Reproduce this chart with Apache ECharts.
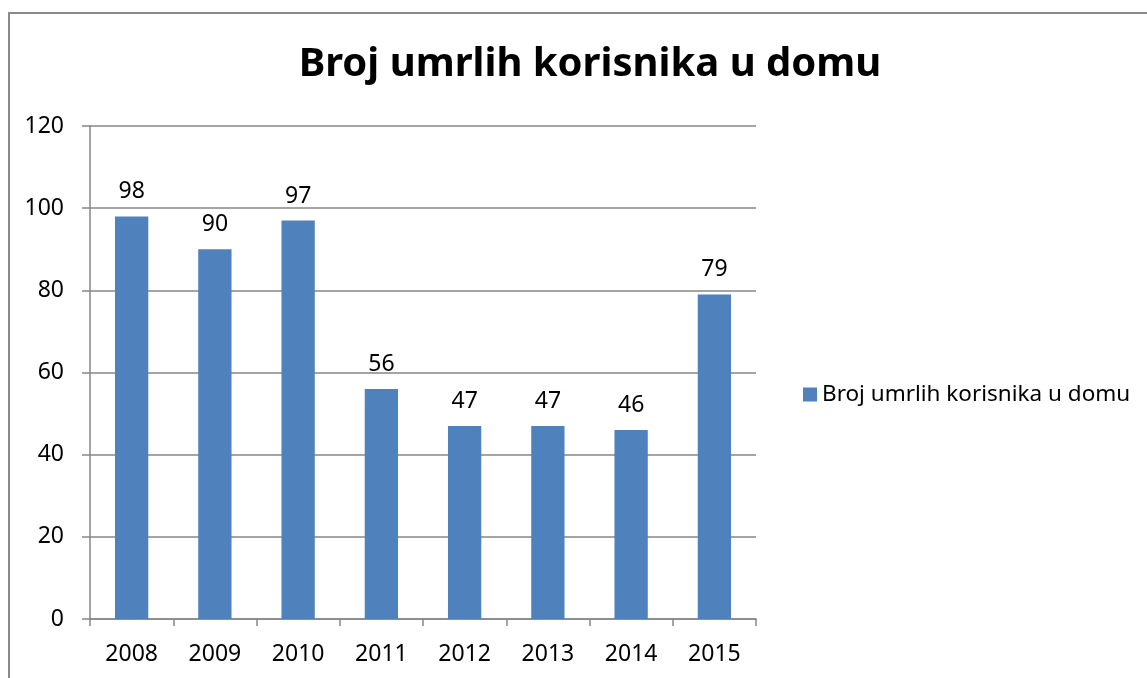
<!DOCTYPE html>
<html><head><meta charset="utf-8">
<script src="https://cdn.jsdelivr.net/npm/echarts@6/dist/echarts.min.js"></script>
<style>
html,body{margin:0;padding:0;background:#fff;}
#frame{position:absolute;left:8px;top:12px;width:1200px;height:720px;border:2px solid #8a8a8a;box-sizing:border-box;}
#c{position:absolute;left:0;top:0;width:1147px;height:678px;}
</style></head>
<body>
<div id="frame"></div>
<div id="c"></div>
<script>
const titleText = 'Broj umrlih korisnika u domu';
const seriesName = 'Broj umrlih korisnika u domu';
const categories = ['2008','2009','2010','2011','2012','2013','2014','2015'];
const values = [98, 90, 97, 56, 47, 47, 46, 79];
const yMin = 0, yMax = 120, yStep = 20;

const font = 'Noto Sans';
const chart = echarts.init(document.getElementById('c'));
chart.setOption({
  animation: false,
  backgroundColor: 'transparent',
  title: {
    text: titleText, left: 585, top: 40, textAlign: 'center',
    textStyle: {fontFamily: font, fontWeight: 'bold', fontSize: 40, color: '#000'}
  },
  legend: {
    left: 798, top: 378, itemWidth: 14, itemHeight: 14, itemGap: 7,
    icon: 'rect',
    textStyle: {fontFamily: font, fontSize: 22.5, color: '#000', padding: [0,0,0,0]},
    data: [seriesName]
  },
  grid: {left: 90, top: 126, width: 666, height: 493, containLabel: false},
  xAxis: {
    type: 'category', data: categories,
    axisLine: {show: true, lineStyle: {color: '#868686', width: 1.5}},
    axisTick: {show: true, length: 7, interval: 0, alignWithLabel: false, lineStyle: {color: '#868686', width: 1.5}},
    axisLabel: {fontFamily: font, fontSize: 23, color: '#000', margin: 24},
    splitLine: {show: false}
  },
  yAxis: {
    type: 'value', min: yMin, max: yMax, interval: yStep,
    axisLine: {show: true, lineStyle: {color: '#868686', width: 1.5}},
    axisTick: {show: true, length: 8, inside: false, lineStyle: {color: '#868686', width: 1.5}},
    axisLabel: {fontFamily: font, fontSize: 23, color: '#000', margin: 26},
    splitLine: {show: true, lineStyle: {color: '#868686', width: 1.5}}
  },
  series: [{
    name: seriesName, type: 'bar', data: values,
    barCategoryGap: '60%',
    itemStyle: {color: '#4f81bd'},
    label: {show: true, position: 'top', distance: 13, fontFamily: font, fontSize: 23, color: '#000'}
  }]
});
</script>
</body></html>
